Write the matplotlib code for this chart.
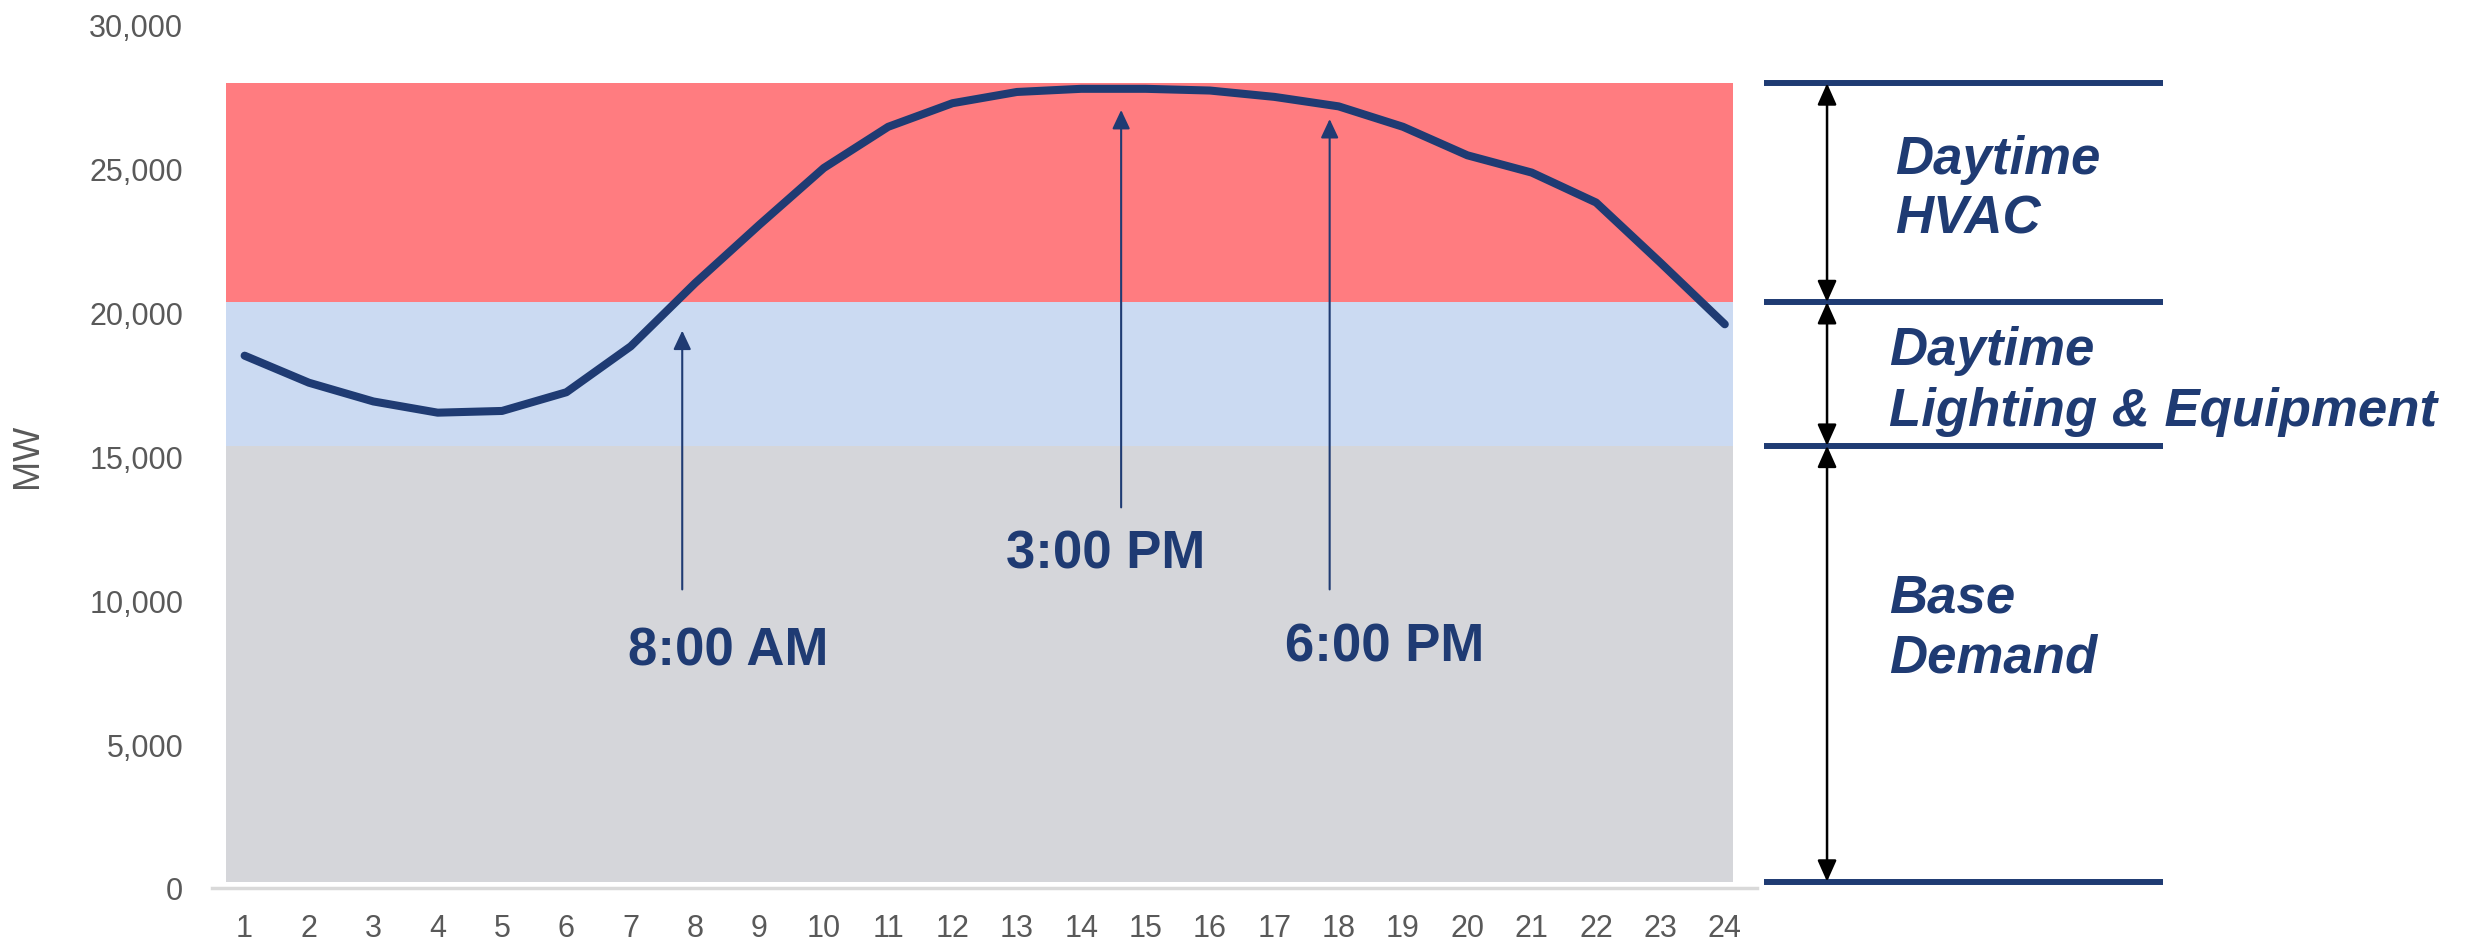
import matplotlib
matplotlib.use("Agg")
import matplotlib.pyplot as plt
import matplotlib.transforms as mtransforms
from matplotlib.ticker import FuncFormatter

plt.rcParams['font.family'] = ['Liberation Sans', 'DejaVu Sans']

hours = list(range(1, 25))
demand_mw = [18490, 17550, 16900, 16510, 16570, 17220, 18815, 21010, 23040, 25010,
             26440, 27260, 27650, 27760, 27760, 27700, 27480, 27150, 26440, 25450,
             24850, 23810, 21720, 19580]

band_levels = [220, 15360, 20350, 27950]  # base bottom, base top, lighting top, HVAC top
band_colors = ['#D5D6DA', '#CBDAF2', '#FF7C80']
band_labels = [['Base', 'Demand'], ['Daytime', 'Lighting & Equipment'], ['Daytime', 'HVAC']]

time_labels = ['8:00 AM', '3:00 PM', '6:00 PM']
arrow_hours = [7.8, 14.62, 17.86]
arrow_tips = [19360, 27025, 26710]
arrow_tails = [10370, 13220, 10370]

yticks = [0, 5000, 10000, 15000, 20000, 25000, 30000]

NAVY = '#1F3B73'
GRAY_TXT = '#595959'

fig = plt.figure(figsize=(24.76, 9.45), dpi=100)
ax = fig.add_axes([0.0858, 0.0593, 0.6238, 0.9139])
ax.set_xlim(0.5, 24.5)
ax.set_ylim(0, 30000)

# bands
for i in range(3):
    ax.fill_between([0.705, 24.13], band_levels[i], band_levels[i + 1],
                    color=band_colors[i], lw=0, zorder=1)

ax.plot(hours, demand_mw, color=NAVY, lw=5.8, solid_capstyle='round',
        solid_joinstyle='round', zorder=3)

# inner arrows
for xh, tip, tail in zip(arrow_hours, arrow_tips, arrow_tails):
    ax.annotate('', xy=(xh, tip), xytext=(xh, tail),
                arrowprops=dict(arrowstyle='-|>,head_length=1.15,head_width=0.54',
                                color=NAVY, lw=1.5, shrinkA=0, shrinkB=0),
                zorder=4)

time_pos = [(8.51, 8235), (14.38, 11630), (18.72, 8390)]
for lab, (xx, yy) in zip(time_labels, time_pos):
    ax.text(xx, yy, lab, ha='center', va='center', fontsize=38,
            fontweight='bold', color=NAVY, zorder=5)

# axes styling
for s in ['top', 'right', 'left']:
    ax.spines[s].set_visible(False)
ax.spines['bottom'].set_color('#D9D9D9')
ax.spines['bottom'].set_linewidth(2.5)
ax.set_xticks(hours)
ax.set_xticklabels([str(h) for h in hours])
ax.set_yticks(yticks)
ax.yaxis.set_major_formatter(FuncFormatter(lambda v, p: f'{int(v):,}'))
ax.tick_params(axis='both', length=0, labelsize=22, labelcolor=GRAY_TXT)
ax.tick_params(axis='x', pad=18)
ax.tick_params(axis='y', pad=21)
fig.text(0.0113, 0.5175, 'MW', rotation=90, ha='center', va='center',
         fontsize=26, color=GRAY_TXT)

# right-side bracket annotation
trans = mtransforms.blended_transform_factory(fig.transFigure, ax.transData)
for lvl in band_levels:
    ax.plot([0.7124, 0.8736], [lvl, lvl], transform=trans, color=NAVY, lw=4.3,
            clip_on=False, solid_capstyle='butt', zorder=5)
for i in range(3):
    ax.annotate('', xy=(0.7379, band_levels[i]), xytext=(0.7379, band_levels[i + 1]),
                xycoords=trans, textcoords=trans,
                arrowprops=dict(arrowstyle='<|-|>,head_length=1.3,head_width=0.58',
                                color='black', lw=1.8, shrinkA=0, shrinkB=0),
                annotation_clip=False, zorder=6)

label_baselines = [[9600, 7515], [18210, 16070], [24850, 22765]]
label_x = [0.763, 0.763, 0.7653]
for i in range(3):
    for line, yb in zip(band_labels[i], label_baselines[i]):
        ax.text(label_x[i], yb, line, transform=trans, ha='left', va='baseline',
                fontsize=38, fontweight='bold', fontstyle='italic', color=NAVY,
                clip_on=False)

fig.savefig('out.png', dpi=100)
